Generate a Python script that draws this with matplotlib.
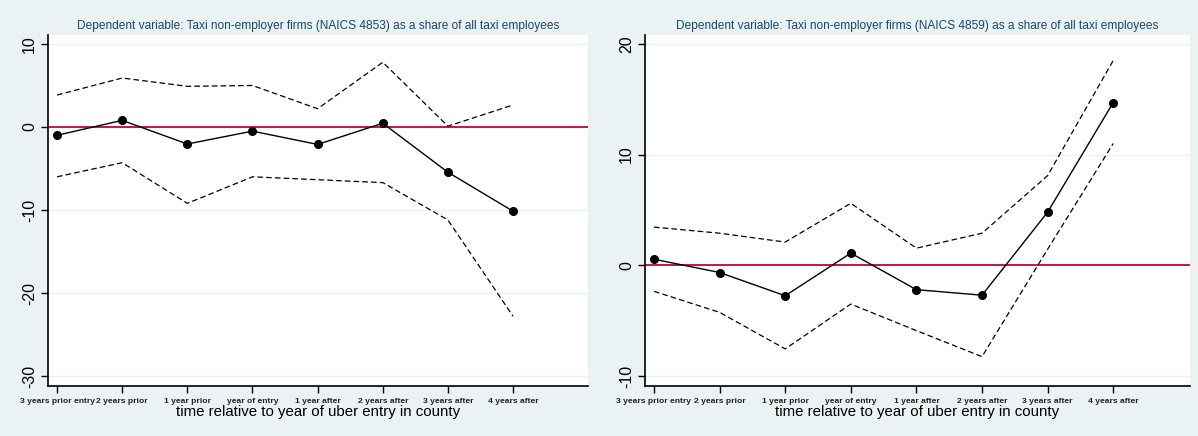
import matplotlib
matplotlib.use("Agg")
import matplotlib.pyplot as plt

plt.rcParams['font.family'] = ['Liberation Sans', 'DejaVu Sans']

periods = ["3 years prior entry", "2 years prior", "1 year prior", "year of entry",
           "1 year after", "2 years after", "3 years after", "4 years after"]

# NAICS 4853 panel
coef_4853 = [-1.0, 0.8, -2.05, -0.5, -2.1, 0.45, -5.45, -10.15]
upper_4853 = [3.85, 5.9, 4.9, 5.0, 2.2, 7.8, 0.1, 2.65]
lower_4853 = [-6.0, -4.3, -9.2, -6.0, -6.35, -6.7, -11.2, -22.8]

# NAICS 4859 panel
coef_4859 = [0.55, -0.65, -2.75, 1.1, -2.2, -2.7, 4.8, 14.7]
upper_4859 = [3.45, 2.9, 2.1, 5.6, 1.55, 2.9, 8.1, 18.5]
lower_4859 = [-2.35, -4.25, -7.55, -3.5, -5.9, -8.25, 1.45, 11.0]

titles = [
    "Dependent variable: Taxi non-employer firms (NAICS 4853) as a share of all taxi employees",
    "Dependent variable: Taxi non-employer firms (NAICS 4859) as a share of all taxi employees",
]
xlabel = "time relative to year of uber entry in county"

yticks_left = [10, 0, -10, -20, -30]
yticks_right = [20, 10, 0, -10]

bg = "#eaf2f3"
navy = "#1a476f"
red = "#c10534"

fig = plt.figure(figsize=(11.98, 4.36), dpi=100, facecolor=bg)

panels = [
    dict(rect=[0.0401, 0.1147, 0.4507, 0.805], coef=coef_4853, up=upper_4853, lo=lower_4853,
         yticks=yticks_left, ylim=(-31.2, 11.08), xlim=(-0.138, 8.15), title=titles[0]),
    dict(rect=[0.5384, 0.1147, 0.4549, 0.805], coef=coef_4859, up=upper_4859, lo=lower_4859,
         yticks=yticks_right, ylim=(-10.9, 20.8), xlim=(-0.137, 8.17), title=titles[1]),
]

x = list(range(len(periods)))
for p in panels:
    ax = fig.add_axes(p["rect"])
    ax.set_facecolor("white")
    for yt in p["yticks"]:
        ax.axhline(yt, color=bg, lw=1.0, zorder=0)
    ax.axhline(0, color=red, lw=1.3, zorder=1)
    ax.plot(x, p["up"], color="black", lw=0.9, ls=(0, (4.5, 2.5)), zorder=2)
    ax.plot(x, p["lo"], color="black", lw=0.9, ls=(0, (4.5, 2.5)), zorder=2)
    ax.plot(x, p["coef"], color="black", lw=1.0, marker="o", ms=5.5, zorder=3)
    ax.set_xlim(*p["xlim"])
    ax.set_ylim(*p["ylim"])
    ax.set_xticks(x)
    ax.set_xticklabels(periods, fontsize=6.1, fontweight="bold", color="#222222")
    ax.set_yticks(p["yticks"])
    ax.set_yticklabels([str(v) for v in p["yticks"]], rotation=90, va="center",
                       fontsize=11.5)
    ax.tick_params(axis="both", length=5, width=1, color="black")
    ax.tick_params(axis="x", pad=4)
    ax.tick_params(axis="y", pad=3)
    for side in ("top", "right"):
        ax.spines[side].set_visible(False)
    for side in ("left", "bottom"):
        ax.spines[side].set_linewidth(1.2)
    ax.set_title(p["title"], fontsize=8.6, color=navy, pad=4)
    ax.set_xlabel(xlabel, fontsize=10.8, labelpad=0)

fig.savefig("out.png", dpi=100, facecolor=bg)
